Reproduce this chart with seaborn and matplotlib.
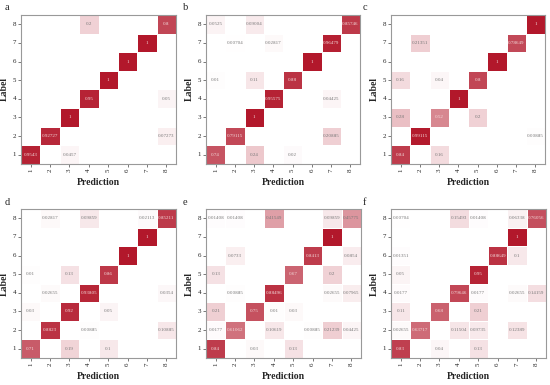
import numpy as np
import matplotlib
matplotlib.use("Agg")
import matplotlib.pyplot as plt
import seaborn as sns
from matplotlib.colors import LinearSegmentedColormap

# class labels, rows listed top (label 8) to bottom (label 1)
classes = ["1", "2", "3", "4", "5", "6", "7", "8"]
row_labels = classes[::-1]
panel_names = ["a", "b", "c", "d", "e", "f"]

cm_a = [
    [0, 0, 0, 0.2, 0, 0, 0, 0.8],
    [0, 0, 0, 0, 0, 0, 1, 0],
    [0, 0, 0, 0, 0, 1, 0, 0],
    [0, 0, 0, 0, 1, 0, 0, 0],
    [0, 0, 0, 0.95, 0, 0, 0, 0.05],
    [0, 0, 1, 0, 0, 0, 0, 0],
    [0, 0.92727, 0, 0, 0, 0, 0, 0.07273],
    [0.9543, 0, 0.0457, 0, 0, 0, 0, 0],
]
cm_b = [
    [0.0525, 0, 0.09004, 0, 0, 0, 0, 0.85746],
    [0, 0.00704, 0, 0.02817, 0, 0, 0.96479, 0],
    [0, 0, 0, 0, 0, 1, 0, 0],
    [0.01, 0, 0.11, 0, 0.88, 0, 0, 0],
    [0, 0, 0, 0.95575, 0, 0, 0.04425, 0],
    [0, 0, 1, 0, 0, 0, 0, 0],
    [0, 0.79115, 0, 0, 0, 0, 0.20885, 0],
    [0.74, 0, 0.24, 0, 0.02, 0, 0, 0],
]
cm_c = [
    [0, 0, 0, 0, 0, 0, 0, 1],
    [0, 0.21351, 0, 0, 0, 0, 0.78649, 0],
    [0, 0, 0, 0, 0, 1, 0, 0],
    [0.16, 0, 0.04, 0, 0.8, 0, 0, 0],
    [0, 0, 0, 1, 0, 0, 0, 0],
    [0.28, 0, 0.52, 0, 0.2, 0, 0, 0],
    [0, 0.99115, 0, 0, 0, 0, 0, 0.00885],
    [0.84, 0, 0.16, 0, 0, 0, 0, 0],
]
cm_d = [
    [0, 0.02817, 0, 0.09859, 0, 0, 0.02113, 0.85211],
    [0, 0, 0, 0, 0, 0, 1, 0],
    [0, 0, 0, 0, 0, 1, 0, 0],
    [0.01, 0, 0.13, 0, 0.86, 0, 0, 0],
    [0, 0.02655, 0, 0.93805, 0, 0, 0, 0.0354],
    [0.03, 0, 0.92, 0, 0.05, 0, 0, 0],
    [0, 0.8823, 0, 0.00885, 0, 0, 0, 0.10885],
    [0.71, 0, 0.19, 0, 0.1, 0, 0, 0],
]
cm_e = [
    [0.01408, 0.01408, 0, 0.41549, 0, 0, 0.09859, 0.45775],
    [0, 0, 0, 0, 0, 0, 1, 0],
    [0, 0.0733, 0, 0, 0, 0.8413, 0, 0.0854],
    [0.13, 0, 0, 0, 0.67, 0, 0.2, 0],
    [0, 0.00885, 0, 0.88496, 0, 0, 0.02655, 0.07965],
    [0.21, 0, 0.75, 0.01, 0.03, 0, 0, 0],
    [0.0177, 0.61062, 0, 0.10619, 0, 0.00885, 0.21239, 0.04425],
    [0.84, 0, 0.03, 0, 0.13, 0, 0, 0],
]
cm_f = [
    [0.00704, 0, 0, 0.15493, 0.01408, 0, 0.06338, 0.76056],
    [0, 0, 0, 0, 0, 0, 1, 0],
    [0.01351, 0, 0, 0, 0, 0.88649, 0.1, 0],
    [0.05, 0, 0, 0, 0.95, 0, 0, 0],
    [0.0177, 0, 0, 0.79646, 0.0177, 0, 0.02655, 0.14159],
    [0.11, 0, 0.68, 0, 0.21, 0, 0, 0],
    [0.02655, 0.63717, 0, 0.11504, 0.09735, 0, 0.12389, 0],
    [0.83, 0, 0.04, 0, 0.13, 0, 0, 0],
]
matrices = [cm_a, cm_b, cm_c, cm_d, cm_e, cm_f]

sns.set_style("white")
plt.rcParams["font.family"] = ["Liberation Serif", "DejaVu Serif"]

cmap = LinearSegmentedColormap.from_list("wr", ["#ffffff", "#b2182b"])

W, H = 550, 385
fig = plt.figure(figsize=(5.5, 3.85), dpi=100)

# axes boxes in pixels: left, top, right, bottom
boxes = [
    (21, 15, 176, 164), (206, 15, 360, 164), (391, 15, 545, 164),
    (21, 209, 176, 358), (206, 209, 361, 358), (391, 209, 546, 358),
]
# panel letter positions in pixels (left x, centre y)
letter_pos = [(5, 8), (183, 8), (363, 8), (5, 203), (183, 203), (363, 203)]

for name, mat, (l, t, r, b), (lx, ly) in zip(panel_names, matrices, boxes, letter_pos):
    ax = fig.add_axes([l / W, 1 - b / H, (r - l) / W, (b - t) / H])
    data = np.array(mat, dtype=float)
    labels = np.where(data > 0, np.vectorize(lambda v: format(v, "g"))(data), "")
    sns.heatmap(data, ax=ax, cmap=cmap, vmin=0, vmax=1, cbar=False,
                annot=labels, fmt="", annot_kws={"fontsize": 3.6},
                linewidths=0.6, linecolor="white",
                xticklabels=classes, yticklabels=row_labels)
    # seaborn writes one text per cell, row by row
    for txt, v in zip(list(ax.texts), data.flat):
        txt.set_color("#f3dcdc" if v > 0.5 else "#777777")
    for sp in ax.spines.values():
        sp.set_visible(True)
        sp.set_color("#999999")
        sp.set_linewidth(0.8)
    ax.tick_params(axis="both", length=2, width=0.5, color="#444444",
                   labelsize=5, pad=1.5, left=True, bottom=True)
    ax.tick_params(axis="x", labelrotation=90)
    ax.tick_params(axis="y", labelrotation=0)
    ax.set_xlabel("Prediction", fontsize=7, fontweight="bold", labelpad=4)
    ax.set_ylabel("Label", fontsize=7, fontweight="bold", labelpad=3)
    fig.text(lx / W, 1 - ly / H, name, fontsize=7.5, ha="left", va="center")

fig.savefig("out.png", dpi=100)
